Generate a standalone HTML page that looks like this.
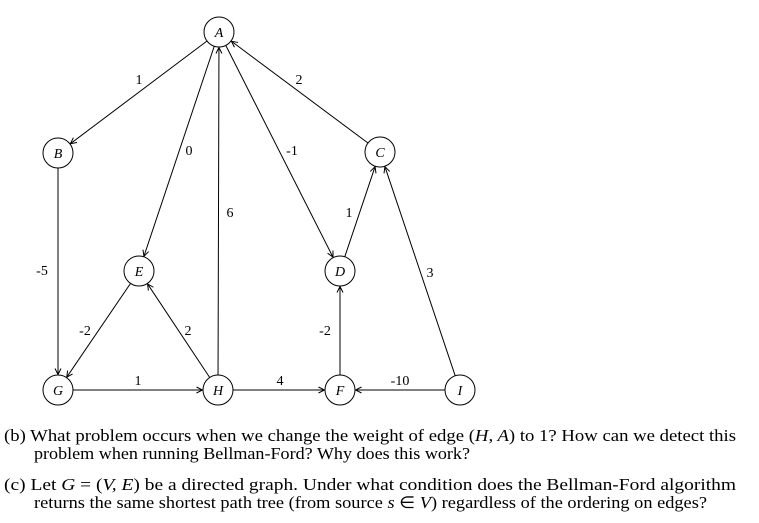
<!DOCTYPE html>
<html><head><meta charset="utf-8">
<style>
html,body{margin:0;padding:0;background:#fff;}
svg{display:block;font-family:"Liberation Serif",serif;}
</style></head>
<body>
<svg id="g" width="759" height="523" viewBox="0 0 759 523">
<defs><marker id="ar" markerWidth="8" markerHeight="8" refX="7" refY="4" orient="auto" markerUnits="userSpaceOnUse"><path d="M1,1 L7,4 L1,7" fill="none" stroke="#000" stroke-width="1"/></marker></defs>
<g id="edges"></g><g id="nodes"></g>
<g font-size="16.5" fill="#000">
<text x="4" y="441" textLength="732" lengthAdjust="spacingAndGlyphs">(b) What problem occurs when we change the weight of edge (<tspan font-style="italic">H, A</tspan>) to 1? How can we detect this</text>
<text x="34" y="459" textLength="436" lengthAdjust="spacingAndGlyphs">problem when running Bellman-Ford? Why does this work?</text>
<text x="4" y="490" textLength="732" lengthAdjust="spacingAndGlyphs">(c) Let <tspan font-style="italic">G</tspan> = (<tspan font-style="italic">V, E</tspan>) be a directed graph. Under what condition does the Bellman-Ford algorithm</text>
<text x="34" y="508" textLength="673" lengthAdjust="spacingAndGlyphs">returns the same shortest path tree (from source <tspan font-style="italic">s</tspan> ∈ <tspan font-style="italic">V</tspan>) regardless of the ordering on edges?</text>
</g>
</svg>
<script>
const nodeNames=["A","B","C","E","D","G","H","F","I"];
const nodeX=[219,58,380,139,340,58,218,340,460];
const nodeY=[32,153,152,271,271,390,390,390,390];
const edgeFrom=["A","C","A","A","H","D","I","B","E","H","G","H","F","I"];
const edgeTo=["B","A","E","D","A","C","C","G","G","E","H","F","D","F"];
const edgeW=["1","2","0","-1","6","1","3","-5","-2","2","1","4","-2","-10"];
const labX=[139,299,189,292,230,349,430,42,85,188,138,280,325,400];
const labY=[79,79,150,150,212,212,272,270,330,330,380,380,330,380];
const R=15,NS="http://www.w3.org/2000/svg";
const eg=document.getElementById('edges'),ng=document.getElementById('nodes');
function pos(n){const i=nodeNames.indexOf(n);return [nodeX[i],nodeY[i]];}
edgeFrom.forEach((f,i)=>{
 const [x1,y1]=pos(f),[x2,y2]=pos(edgeTo[i]);
 const dx=x2-x1,dy=y2-y1,L=Math.hypot(dx,dy),ux=dx/L,uy=dy/L;
 const l=document.createElementNS(NS,'line');
 
 
 l.setAttribute('x1',x1+ux*R);l.setAttribute('y1',y1+uy*R);
 l.setAttribute('x2',x2-ux*(R+0.5));l.setAttribute('y2',y2-uy*(R+0.5));
 l.setAttribute('stroke','#000');l.setAttribute('stroke-width','1');
 l.setAttribute('marker-end','url(#ar)');eg.appendChild(l);
 const t=document.createElementNS(NS,'text');
 
 
 t.setAttribute('x',labX[i]);t.setAttribute('y',labY[i]+5);
 t.setAttribute('text-anchor','middle');t.setAttribute('font-size','14');
 t.textContent=edgeW[i];eg.appendChild(t);
});
nodeNames.forEach((n,i)=>{
 const c=document.createElementNS(NS,'circle');
 
 
 c.setAttribute('cx',nodeX[i]);c.setAttribute('cy',nodeY[i]);c.setAttribute('r',R);
 c.setAttribute('fill','#fff');c.setAttribute('stroke','#000');ng.appendChild(c);
 const t=document.createElementNS(NS,'text');
 
 
 t.setAttribute('x',nodeX[i]);t.setAttribute('y',nodeY[i]+5);
 t.setAttribute('text-anchor','middle');t.setAttribute('font-size','14');
 t.setAttribute('font-style','italic');t.textContent=n;ng.appendChild(t);
});
</script>
</body></html>
